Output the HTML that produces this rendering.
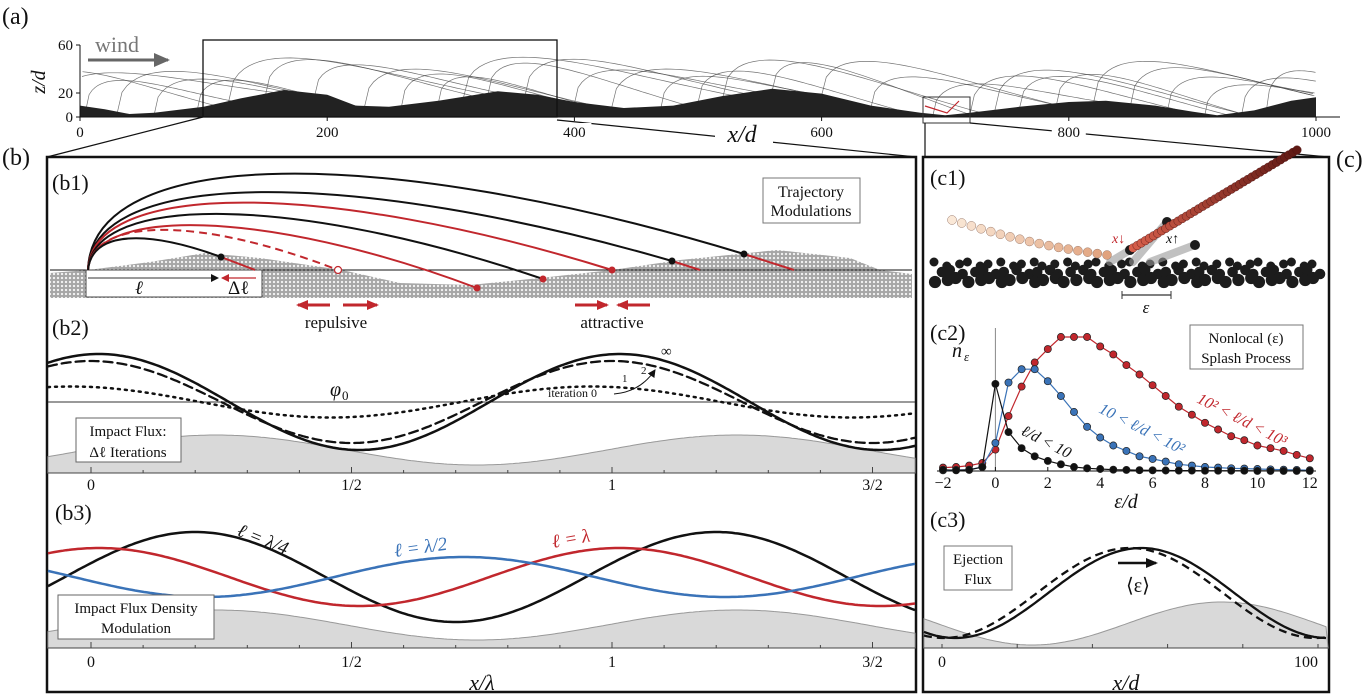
<!DOCTYPE html>
<html><head><meta charset="utf-8"><style>
body{margin:0;background:#fff}
svg{display:block;font-family:"Liberation Serif",serif}
text{fill:#111}
</style></head><body>
<svg id="fig" width="1372" height="700" viewBox="0 0 1372 700" xmlns="http://www.w3.org/2000/svg">
<defs>
<pattern id="sand" width="4" height="4" patternUnits="userSpaceOnUse">
<rect width="4" height="4" fill="#a8a8a8"/><circle cx="2" cy="2" r="1.6" fill="#eeeeee" stroke="#808080" stroke-width="0.4"/>
</pattern>
<marker id="ah" markerUnits="userSpaceOnUse" markerWidth="12" markerHeight="10" refX="10" refY="5" orient="auto"><path d="M0,0 L12,5 L0,10 Z" fill="#111"/></marker>
<marker id="ahs" markerUnits="userSpaceOnUse" markerWidth="8" markerHeight="8" refX="7" refY="4" orient="auto"><path d="M0,0 L8,4 L0,8 Z" fill="#111"/></marker>
<marker id="ahr" markerUnits="userSpaceOnUse" markerWidth="12" markerHeight="10" refX="10" refY="5" orient="auto"><path d="M0,0 L12,5 L0,10 Z" fill="#c1272d"/></marker>
<marker id="ahrs" markerUnits="userSpaceOnUse" markerWidth="8" markerHeight="8" refX="7" refY="4" orient="auto"><path d="M0,0 L8,4 L0,8 Z" fill="#c1272d"/></marker>
<marker id="ahg" markerUnits="userSpaceOnUse" markerWidth="16" markerHeight="14" refX="14" refY="7" orient="auto"><path d="M0,0 L16,7 L0,14 Z" fill="#666"/></marker>
</defs>
<g id="gA"></g>
<g id="gConn"></g>
<g id="gB"></g>
<g id="gC"></g>
</svg>
<script>
// ---------- data ----------
const duneX = [0,20,40,60,100,130,165,200,223,250,290,338,370,400,440,480,520,560,600,640,680,700,720,760,800,830,870,900,920,950,980,1000];
const duneZ = [8,5,1,2,7,14,21,17,8,7,12,20,17,11,6,8,16,22,18,8,2,0,2,7,11,12,8,3,0,4,12,15];
const hopStart = [-40,-20,5,30,60,95,120,150,190,230,260,290,310,330,360,400,430,470,500,520,560,600,640,690,720,740,760,790,820,850,880,910,940,960];
const hopLen   = [150,180,120,200,160,130,210,170,150,190,140,120,220,160,180,150,200,130,170,210,160,190,150,140,180,200,170,150,190,160,140,120,130,110];
const hopH     = [30,26,22,34,28,24,36,30,25,32,27,22,34,28,30,26,32,24,28,34,27,30,25,24,32,35,28,27,34,30,25,22,27,30];
const aTicks = [0,200,400,600,800,1000];
const trajApex  = [175,193,203,214,225,230,239];
const trajLandX = [744,672,612,543,477,338,221];
const trajLandY = [254,261,270,279,288,270,257];
const trajColor = ['#111','#111','#c1272d','#111','#c1272d','#c1272d','#111'];
const b2Amp   = [48,41,15.5];
const b2Phase = [0.015,0.0,-0.04];
const b3Amp   = [45,29,20];
const b3Phase = [0.2,0.015,0.717];
const bTicks = [0,0.5,1,1.5];
const bTickLabels = ['0','1/2','1','3/2'];
const epsVals = [-2,-1.5,-1,-0.5,0,0.5,1,1.5,2,2.5,3,3.5,4,4.5,5,5.5,6,6.5,7,7.5,8,8.5,9,9.5,10,10.5,11,11.5,12];
const nRed   = [0.025,0.03,0.04,0.06,0.16,0.41,0.63,0.81,0.91,1.0,1.0,1.0,0.93,0.87,0.79,0.72,0.64,0.56,0.48,0.42,0.36,0.31,0.26,0.23,0.19,0.17,0.15,0.12,0.095];
const nBlue  = [0.005,0.008,0.01,0.03,0.21,0.66,0.76,0.76,0.67,0.56,0.44,0.33,0.25,0.19,0.15,0.11,0.09,0.07,0.05,0.04,0.03,0.025,0.02,0.018,0.015,0.012,0.01,0.008,0.006];
const nBlack = [0.01,0.005,0.008,0.03,0.65,0.29,0.17,0.11,0.075,0.05,0.03,0.02,0.015,0.01,0.008,0.006,0.005,0.004,0.003,0.003,0.002,0.002,0.002,0.002,0.001,0.001,0.001,0.001,0.001];
const c2Ticks = [-2,0,2,4,6,8,10,12];
const c3Ticks = [0,100];
const c3Peak = [53,50];
const c3HillPeak = 74.5;

// ---------- helpers ----------
const NS='http://www.w3.org/2000/svg';
function mk(parent,tag,attrs,txt){const e=document.createElementNS(NS,tag);for(const k in attrs)e.setAttribute(k,attrs[k]);if(txt!==undefined)e.textContent=txt;parent.appendChild(e);return e;}
const gA=document.getElementById('gA'),gB=document.getElementById('gB'),gC=document.getElementById('gC'),gConn=document.getElementById('gConn');

// ---------- panel a ----------
const ax=v=>80+v*1.236, az=z=>117-z*1.2;
function duneAt(x){for(let i=1;i<duneX.length;i++){if(x<=duneX[i]){const t=(x-duneX[i-1])/(duneX[i]-duneX[i-1]);return duneZ[i-1]+t*(duneZ[i]-duneZ[i-1]);}}return duneZ[duneZ.length-1];}
let e;
for(let i=0;i<hopStart.length;i++){
  const x0=Math.max(0,hopStart[i]),x1=Math.min(1000,hopStart[i]+hopLen[i]);
  const xs=hopStart[i],xe=hopStart[i]+hopLen[i];
  let p='';
  for(let k=0;k<=50;k++){const x=xs+(xe-xs)*k/50;if(x<x0||x>x1)continue;const t=(x-xs)/(xe-xs);
    const base=duneAt(Math.min(1000,Math.max(0,xs)))*(1-t)+duneAt(Math.min(1000,Math.max(0,xe)))*t;
    const z=base+hopH[i]*Math.sin(Math.PI*Math.pow(t,0.45));
    p+=(p?' L':'M')+ax(x).toFixed(1)+','+az(z).toFixed(1);}
  e=mk(gA,'path',{d:p,fill:'none',stroke:'#444','stroke-width':0.7,opacity:0.75});
  
  
}
let dp='M'+ax(0)+','+az(0);
for(let i=0;i<duneX.length;i++)dp+=' L'+ax(duneX[i])+','+az(duneZ[i]+1.5);
dp+=' L'+ax(1000)+','+az(0)+' Z';
e=mk(gA,'path',{d:dp,fill:'#222'});


mk(gA,'line',{x1:80,y1:45,x2:80,y2:117,stroke:'#111','stroke-width':1});
mk(gA,'line',{x1:80,y1:117,x2:1340,y2:117,stroke:'#111','stroke-width':1});
aTicks.forEach(v=>{mk(gA,'line',{x1:ax(v),y1:117,x2:ax(v),y2:121,stroke:'#111'});});
[[0,'0'],[20,'20'],[60,'60']].forEach(([z,l])=>{mk(gA,'line',{x1:76,y1:az(z),x2:80,y2:az(z),stroke:'#111'});mk(gA,'text',{x:73,y:az(z)+5,'font-size':15,'text-anchor':'end'},l);});
e=mk(gA,'text',{x:0,y:0,'font-size':20,'font-style':'italic',transform:'translate(45,82) rotate(-90)','text-anchor':'middle'},'z/d');


e=mk(gA,'text',{x:95,y:52,'font-size':22,fill:'#777',style:'fill:#777'},'wind');


mk(gA,'line',{x1:88,y1:60,x2:168,y2:60,stroke:'#666','stroke-width':3,'marker-end':'url(#ahg)'});
mk(gA,'text',{x:2,y:24,'font-size':24},'(a)');
mk(gA,'rect',{x:203,y:40,width:354,height:77,fill:'none',stroke:'#111','stroke-width':1.3});
mk(gA,'rect',{x:923,y:97,width:47,height:26,fill:'none',stroke:'#333','stroke-width':1});
mk(gA,'polyline',{points:'925,106 947,113 959,101',fill:'none',stroke:'#c1272d','stroke-width':1.2});

// connectors
[[203,117,47,157],[557,120,916,157],[925,123,925,157],[970,123,1328,157]].forEach(c=>mk(gConn,'line',{x1:c[0],y1:c[1],x2:c[2],y2:c[3],stroke:'#111','stroke-width':1.2}));
aTicks.forEach(v=>{if(v>=400)mk(gConn,'rect',{x:ax(v)-17,y:123,width:34,height:18,fill:'#fff'});
  e=mk(gConn,'text',{x:ax(v),y:137,'font-size':15,'text-anchor':'middle'},String(v));
  
  });
mk(gConn,'rect',{x:715,y:120,width:58,height:28,fill:'#fff'});
e=mk(gConn,'text',{x:742,y:142,'font-size':24,'font-style':'italic','text-anchor':'middle'},'x/d');



// ---------- panel b ----------
mk(gB,'text',{x:2,y:165,'font-size':24},'(b)');
e=mk(gB,'rect',{x:47,y:157,width:869,height:535,fill:'none',stroke:'#111','stroke-width':2.5});


mk(gB,'text',{x:52,y:190,'font-size':22},'(b1)');
e=mk(gB,'path',{d:'M50,298 L50,273 L88,270 L150,262 L205,253 L260,258 L342,270 L400,283 L470,285 L540,278 L612,270 L680,260 L777,250 L850,258 L880,270 L912,274 L912,298 Z',fill:'url(#sand)'});


mk(gB,'line',{x1:50,y1:270,x2:912,y2:270,stroke:'#111','stroke-width':1});
mk(gB,'rect',{x:86,y:270,width:176,height:27,fill:'#fff',stroke:'#444','stroke-width':1});
mk(gB,'line',{x1:88,y1:278,x2:218,y2:278,stroke:'#333','stroke-width':1,'marker-end':'url(#ahs)'});
mk(gB,'line',{x1:256,y1:278,x2:222,y2:278,stroke:'#c1272d','stroke-width':1.2,'marker-end':'url(#ahrs)'});
mk(gB,'text',{x:135,y:294,'font-size':19,'font-style':'italic'},'ℓ');
mk(gB,'text',{x:228,y:294,'font-size':19},'Δℓ');
for(let i=0;i<trajApex.length;i++){
  const x0=88,y0=270,xe=trajLandX[i],ye=trajLandY[i];
  const a=(trajApex[i]-0.166*y0-0.091*ye)/0.742;
  e=mk(gB,'path',{d:`M${x0},${y0} C${x0+4},${a.toFixed(1)} ${(x0+0.45*(xe-x0)).toFixed(1)},${a.toFixed(1)} ${xe},${ye}`,fill:'none',stroke:trajColor[i],'stroke-width':2,'stroke-dasharray':i===5?'8,5':'none'});
  
  
}
[[744,254,794,270],[672,261,700,270],[221,257,255,270]].forEach(s=>{mk(gB,'line',{x1:s[0],y1:s[1],x2:s[2],y2:s[3],stroke:'#c1272d','stroke-width':2});mk(gB,'circle',{cx:s[0],cy:s[1],r:3.5,fill:'#111'});});
[[612,270],[543,279],[477,288]].forEach(p=>mk(gB,'circle',{cx:p[0],cy:p[1],r:3.5,fill:'#c1272d'}));
mk(gB,'circle',{cx:338,cy:270,r:3.5,fill:'#fff',stroke:'#c1272d','stroke-width':1.2});
mk(gB,'rect',{x:763,y:178,width:97,height:45,fill:'#fff',stroke:'#777'});
e=mk(gB,'text',{x:811,y:197,'font-size':16,'text-anchor':'middle'},'Trajectory');


mk(gB,'text',{x:811,y:216,'font-size':16,'text-anchor':'middle'},'Modulations');
[[330,298],[343,377],[575,607],[650,618]].forEach(s=>mk(gB,'line',{x1:s[0],y1:305,x2:s[1],y2:305,stroke:'#c1272d','stroke-width':3,'marker-end':'url(#ahr)'}));
mk(gB,'text',{x:336,y:328,'font-size':17,'text-anchor':'middle'},'repulsive');
mk(gB,'text',{x:612,y:328,'font-size':17,'text-anchor':'middle'},'attractive');

const bx=u=>91+u*521;
function curvePath(fn,x0,x1){let p='';for(let x=x0;x<=x1;x+=3)p+=(p?' L':'M')+x+','+fn((x-91)/521).toFixed(1);return p;}
function bAxis(yAxis,yLab){
  mk(gB,'line',{x1:48,y1:yAxis,x2:915,y2:yAxis,stroke:'#444','stroke-width':1});
  for(let k=-1;k<=16;k++){const x=bx(k/10);if(x<48||x>915)continue;mk(gB,'line',{x1:x,y1:yAxis,x2:x,y2:yAxis-(k%5===0?6:3),stroke:'#444'});}
  bTicks.forEach((u,i)=>{e=mk(gB,'text',{x:bx(u),y:yLab,'font-size':16,'text-anchor':'middle'},bTickLabels[i]);
    
    });
}
mk(gB,'text',{x:52,y:335,'font-size':22},'(b2)');
e=mk(gB,'path',{d:curvePath(u=>450-15*Math.cos(2*Math.PI*(u-0.24)),48,915)+' L915,473 L48,473 Z',fill:'#d9d9d9',stroke:'#999','stroke-width':1});


mk(gB,'line',{x1:48,y1:402,x2:915,y2:402,stroke:'#333','stroke-width':1});
bAxis(473,490);
const b2Dash=['none','9,5','2,5'];const b2W=[2.5,2.3,2.5];
for(let i=0;i<3;i++){e=mk(gB,'path',{d:curvePath(u=>402-b2Amp[i]*Math.cos(2*Math.PI*(u-b2Phase[i])),48,915),fill:'none',stroke:'#111','stroke-width':b2W[i],'stroke-dasharray':b2Dash[i],'stroke-linecap':'round'});
  
  }
mk(gB,'text',{x:330,y:396,'font-size':20,'font-style':'italic'},'φ');
mk(gB,'text',{x:342,y:400,'font-size':13},'0');
mk(gB,'text',{x:661,y:356,'font-size':15},'∞');
mk(gB,'text',{x:641,y:374,'font-size':11},'2');
mk(gB,'text',{x:622,y:382,'font-size':11},'1');
mk(gB,'text',{x:548,y:397,'font-size':12},'iteration 0');
mk(gB,'path',{d:'M614,394 Q640,392 655,370',fill:'none',stroke:'#111','stroke-width':1,'marker-end':'url(#ahs)'});
mk(gB,'rect',{x:76,y:418,width:105,height:44,fill:'#fff',stroke:'#666'});
e=mk(gB,'text',{x:128,y:436,'font-size':15,'text-anchor':'middle'},'Impact Flux:');


mk(gB,'text',{x:128,y:457,'font-size':15,'text-anchor':'middle'},'Δℓ Iterations');

mk(gB,'text',{x:55,y:520,'font-size':22},'(b3)');
e=mk(gB,'path',{d:curvePath(u=>625-15*Math.cos(2*Math.PI*(u-0.24)),48,915)+' L915,648 L48,648 Z',fill:'#d9d9d9',stroke:'#999','stroke-width':1});


bAxis(648,667);
const b3Col=['#111','#c1272d','#3a73b8'];const b3Name=['flux-lambda-quarter','flux-lambda','flux-lambda-half'];
for(let i=0;i<3;i++){e=mk(gB,'path',{d:curvePath(u=>577-b3Amp[i]*Math.cos(2*Math.PI*(u-b3Phase[i])),48,915),fill:'none',stroke:b3Col[i],'stroke-width':2.5});
  
  }
mk(gB,'text',{x:0,y:0,'font-size':19,'font-style':'italic',transform:'translate(236,535) rotate(22)'},'ℓ = λ/4');
mk(gB,'text',{x:0,y:0,'font-size':19,'font-style':'italic',fill:'#3a73b8',style:'fill:#3a73b8',transform:'translate(395,557) rotate(-8)'},'ℓ = λ/2');
mk(gB,'text',{x:0,y:0,'font-size':19,'font-style':'italic',fill:'#c1272d',style:'fill:#c1272d',transform:'translate(553,548) rotate(-10)'},'ℓ = λ');
mk(gB,'rect',{x:58,y:595,width:156,height:44,fill:'#fff',stroke:'#666'});
e=mk(gB,'text',{x:136,y:613,'font-size':15,'text-anchor':'middle'},'Impact Flux Density');


mk(gB,'text',{x:136,y:633,'font-size':15,'text-anchor':'middle'},'Modulation');
e=mk(gB,'text',{x:482,y:690,'font-size':22,'font-style':'italic','text-anchor':'middle'},'x/λ');



// ---------- panel c ----------
mk(gC,'text',{x:1336,y:167,'font-size':24},'(c)');
e=mk(gC,'rect',{x:923,y:157,width:406,height:535,fill:'none',stroke:'#111','stroke-width':2.5});


mk(gC,'text',{x:930,y:185,'font-size':22},'(c1)');
for(let r=0;r<3;r++){for(let k=0;k<36;k++){const cx=936+k*10.8+(r%2)*5+((k*7+r*3)%5)-2;const cy=262+r*8+((k*5+r)%3)*2;const rr=4.5+((k*3+r)%3)*0.8;
  mk(gC,'circle',{cx:cx.toFixed(1),cy:cy,r:rr,fill:'#1c1c1c'});}}
[[1133,262,1167,222],[1150,262,1195,245],[1110,262,1130,250]].forEach(s=>{mk(gC,'line',{x1:s[0],y1:s[1],x2:s[2],y2:s[3],stroke:'#999','stroke-width':8,opacity:0.6,'stroke-linecap':'round'});mk(gC,'circle',{cx:s[2],cy:s[3],r:5,fill:'#1c1c1c'});});
for(let k=0;k<=40;k++){const t=k/40;const x=1133+t*(1297-1133),y=248+t*(150-248);
  mk(gC,'circle',{cx:x.toFixed(1),cy:y.toFixed(1),r:4.3,fill:`rgb(${Math.round(215-t*120)},${Math.round(95-t*70)},${Math.round(75-t*55)})`,stroke:'#4a1010','stroke-width':0.4});}
for(let k=0;k<=16;k++){const t=k/16;const x=952+t*(1107-952),y=220+t*(255-220)+Math.sin(t*Math.PI)*4;
  mk(gC,'circle',{cx:x.toFixed(1),cy:y.toFixed(1),r:4.5,fill:`rgb(${Math.round(250-t*25)},${Math.round(232-t*70)},${Math.round(215-t*90)})`,stroke:'#9c7a6a','stroke-width':0.5});}
mk(gC,'text',{x:1112,y:243,'font-size':14,'font-style':'italic',fill:'#c1272d',style:'fill:#c1272d'},'x↓');
mk(gC,'text',{x:1166,y:243,'font-size':14,'font-style':'italic'},'x↑');
mk(gC,'line',{x1:1122,y1:295,x2:1171,y2:295,stroke:'#333','stroke-width':1.2});
mk(gC,'line',{x1:1122,y1:291,x2:1122,y2:299,stroke:'#333'});mk(gC,'line',{x1:1171,y1:291,x2:1171,y2:299,stroke:'#333'});
mk(gC,'text',{x:1146,y:313,'font-size':17,'font-style':'italic','text-anchor':'middle'},'ε');

mk(gC,'text',{x:930,y:340,'font-size':22},'(c2)');
const cx2=v=>943+(v+2)*26.2, cy2=n=>471-n*134;
mk(gC,'line',{x1:cx2(0),y1:328,x2:cx2(0),y2:471,stroke:'#888','stroke-width':1});
mk(gC,'line',{x1:937,y1:471,x2:1316,y2:471,stroke:'#111','stroke-width':1});
c2Ticks.forEach(v=>{mk(gC,'line',{x1:cx2(v),y1:471,x2:cx2(v),y2:467,stroke:'#111'});
  e=mk(gC,'text',{x:cx2(v),y:488,'font-size':16,'text-anchor':'middle'},v<0?'−'+(-v):String(v));
  
  });
e=mk(gC,'text',{x:1126,y:508,'font-size':20,'font-style':'italic','text-anchor':'middle'},'ε/d');


mk(gC,'text',{x:952,y:357,'font-size':20,'font-style':'italic'},'n');
mk(gC,'text',{x:964,y:361,'font-size':13,'font-style':'italic'},'ε');
const series=[[nRed,'#c1272d','series-red'],[nBlue,'#3a73b8','series-blue'],[nBlack,'#111','series-black']];
series.forEach(([arr,col,nm])=>{
  let p='';arr.forEach((n,i)=>p+=(i?' L':'M')+cx2(epsVals[i]).toFixed(1)+','+cy2(n).toFixed(1));
  e=mk(gC,'path',{d:p,fill:'none',stroke:col,'stroke-width':1.2});
  
  
  arr.forEach((n,i)=>{e=mk(gC,'circle',{cx:cx2(epsVals[i]).toFixed(1),cy:cy2(n).toFixed(1),r:3.6,fill:col,stroke:'#222','stroke-width':0.7});
    
    });
});
mk(gC,'rect',{x:1190,y:325,width:113,height:44,fill:'#fff',stroke:'#777'});
e=mk(gC,'text',{x:1246,y:343,'font-size':15,'text-anchor':'middle'},'Nonlocal (ε)');


mk(gC,'text',{x:1246,y:363,'font-size':15,'text-anchor':'middle'},'Splash Process');
mk(gC,'text',{x:0,y:0,'font-size':16,'font-style':'italic',transform:'translate(1020,434) rotate(27)'},'ℓ/d < 10');
mk(gC,'text',{x:0,y:0,'font-size':16,'font-style':'italic',fill:'#3a73b8',style:'fill:#3a73b8',transform:'translate(1098,412) rotate(27)'},'10 < ℓ/d < 10²');
mk(gC,'text',{x:0,y:0,'font-size':16,'font-style':'italic',fill:'#c1272d',style:'fill:#c1272d',transform:'translate(1196,402) rotate(27)'},'10² < ℓ/d < 10³');

mk(gC,'text',{x:930,y:527,'font-size':22},'(c3)');
const cx3=u=>942+u*3.76;
function c3Path(fn){let p='';for(let x=924;x<=1328;x+=3)p+=(p?' L':'M')+x+','+fn((x-942)/3.76).toFixed(1);return p;}
e=mk(gC,'path',{d:c3Path(u=>623.5-21.5*Math.cos(2*Math.PI*(u-c3HillPeak)/101))+' L1328,648 L924,648 Z',fill:'#d9d9d9',stroke:'#999','stroke-width':1});


mk(gC,'line',{x1:924,y1:648,x2:1328,y2:648,stroke:'#444'});
for(let k=0;k<=5;k++)mk(gC,'line',{x1:cx3(k*20),y1:648,x2:cx3(k*20),y2:644,stroke:'#444'});
c3Ticks.forEach(v=>{e=mk(gC,'text',{x:cx3(v),y:667,'font-size':16,'text-anchor':v===100?'end':'middle'},String(v));
  
  });
[[0,'none'],[1,'8,5']].forEach(([i,d])=>{e=mk(gC,'path',{d:c3Path(u=>593-45*Math.cos(2*Math.PI*(u-c3Peak[i])/99)),fill:'none',stroke:'#111','stroke-width':2.3,'stroke-dasharray':d});
  
  });
mk(gC,'line',{x1:1118,y1:563,x2:1156,y2:563,stroke:'#111','stroke-width':2.5,'marker-end':'url(#ah)'});
mk(gC,'text',{x:1138,y:592,'font-size':20,'text-anchor':'middle'},'⟨ε⟩');
mk(gC,'rect',{x:944,y:546,width:68,height:44,fill:'#fff',stroke:'#777'});
e=mk(gC,'text',{x:978,y:564,'font-size':15,'text-anchor':'middle'},'Ejection');


mk(gC,'text',{x:978,y:584,'font-size':15,'text-anchor':'middle'},'Flux');
e=mk(gC,'text',{x:1126,y:690,'font-size':22,'font-style':'italic','text-anchor':'middle'},'x/d');


</script>
</body></html>
